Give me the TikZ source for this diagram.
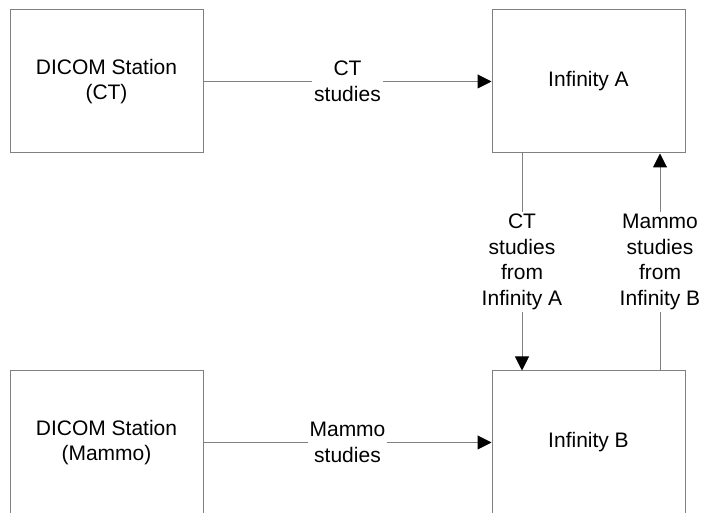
\documentclass[tikz,border=0pt]{standalone}
\usepackage{fontspec}
\setmainfont{Liberation Sans}
\usetikzlibrary{arrows.meta}

\begin{document}
\begin{tikzpicture}[x=1pt, y=1pt,
    every node/.style={font=\fontsize{21}{25.5}\selectfont},
    station/.style={draw=gray, line width=1pt, minimum width=193pt, minimum height=143pt, align=center, inner sep=0pt},
    flow/.style={draw=gray, line width=1pt, -{Triangle[length=14pt, width=14pt, color=black]}},
    lbl/.style={fill=white, align=center, inner sep=2pt}]
  \useasboundingbox (0,0) rectangle (702,513);
  % Nodos
  \node[station] (dct) at (106.5,431.5) {DICOM Station\\(CT)};
  \node[station] (infA) at (588.5,431.5) {Infinity A};
  \node[station] (dmam) at (106.5,70.5) {DICOM Station\\(Mammo)};
  \node[station] (infB) at (588.5,70.5) {Infinity B};

  % Aristas
  \draw[flow] (dct) -- node[lbl] {CT\\studies} (infA);
  \draw[flow] (dmam) -- node[lbl] {Mammo\\studies} (infB);
  \draw[flow] ([xshift=-66.5pt]infA.south) -- node[lbl] {CT\\studies\\from\\Infinity A} ([xshift=-66.5pt]infB.north);
  \draw[flow] ([xshift=71.5pt]infB.north) -- node[lbl] {Mammo\\studies\\from\\Infinity B} ([xshift=71.5pt]infA.south);
\end{tikzpicture}
\end{document}
